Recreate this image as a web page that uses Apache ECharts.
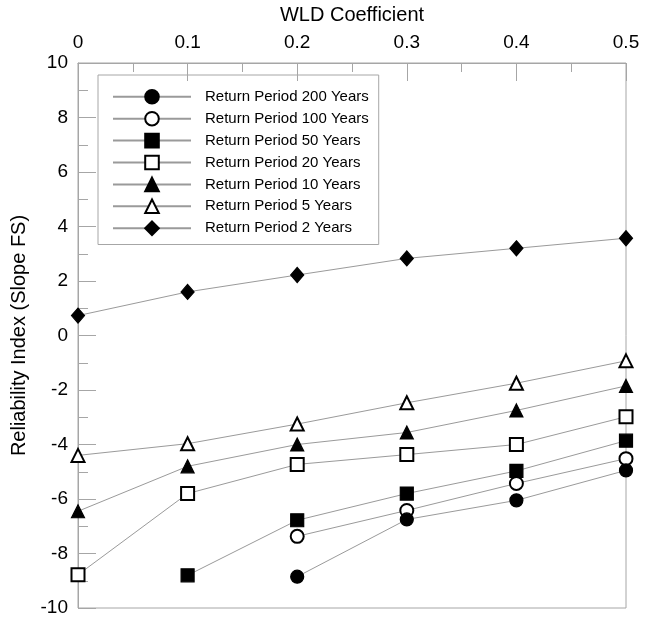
<!DOCTYPE html>
<html>
<head>
<meta charset="utf-8">
<script src="https://cdn.jsdelivr.net/npm/echarts@6/dist/echarts.min.js"></script>
<style>
  html, body { margin: 0; padding: 0; background: #fff; }
  #chart { width: 652px; height: 618px; }
</style>
</head>
<body>
<div id="chart"></div>
<script>
// WLD coefficient (x) and reliability index per return period
const wld = [0, 0.1, 0.2, 0.3, 0.4, 0.5];
const rp200 = [null, null, -8.85, -6.75, -6.05, -4.95];
const rp100 = [null, null, -7.37, -6.42, -5.43, -4.52];
const rp50 = [null, -8.8, -6.78, -5.8, -4.97, -3.86];
const rp20 = [-8.78, -5.8, -4.73, -4.37, -4.0, -2.98];
const rp10 = [-6.45, -4.8, -4.0, -3.56, -2.75, -1.85];
const rp5 = [-4.4, -3.97, -3.25, -2.47, -1.75, -0.93];
const rp2 = [0.73, 1.6, 2.22, 2.83, 3.2, 3.57];

const seriesNames = [
  'Return Period 200 Years',
  'Return Period 100 Years',
  'Return Period 50 Years',
  'Return Period 20 Years',
  'Return Period 10 Years',
  'Return Period 5 Years',
  'Return Period 2 Years'
];
const seriesValues = [rp200, rp100, rp50, rp20, rp10, rp5, rp2];
const symbols = ['circle', 'emptyCircle', 'rect', 'emptyRect', 'triangle', 'emptyTriangle', 'diamond'];

const axisGrey = '#a6a6a6';
const fontFamily = '"Liberation Sans", Arial, sans-serif';

const chart = echarts.init(document.getElementById('chart'), null, { renderer: 'canvas' });

// pair up x and y, skip missing points
function toPairs(vals) {
  const out = [];
  vals.forEach((v, i) => {
    if (v !== null) out.push([wld[i], v]);
  });
  return out;
}

const series = seriesNames.map((name, i) => ({
  name: name,
  type: 'line',
  data: toPairs(seriesValues[i]),
  symbol: symbols[i],
  symbolSize: symbols[i] === 'diamond' ? [13, 15] : 13,
  clip: false,
  z: 20 - i,
  lineStyle: { color: '#9a9a9a', width: 1 },
  itemStyle: { color: '#000', borderColor: '#000', borderWidth: 1.2 },
  emphasis: { disabled: true }
}));

const option = {
  backgroundColor: '#ffffff',
  animation: false,
  grid: {
    left: 78, top: 61, right: 26, bottom: 10,
    show: true, borderColor: axisGrey, borderWidth: 1
  },
  legend: {
    orient: 'vertical',
    left: 98,
    top: 75,
    padding: [14, 10, 8.5, 14],
    itemWidth: 78,
    itemHeight: 17,
    itemGap: 6.3,
    borderColor: axisGrey,
    borderWidth: 1,
    data: seriesNames,
    textStyle: { fontSize: 15, color: '#000', fontFamily: fontFamily, padding: [0, 0, 0, 9] }
  },
  xAxis: {
    type: 'value',
    position: 'top',
    min: 0, max: 0.5, interval: 0.1,
    name: 'WLD Coefficient',
    nameLocation: 'middle',
    nameGap: 38,
    nameTextStyle: { fontSize: 20, color: '#000', fontFamily: fontFamily },
    axisLine: { onZero: false, lineStyle: { color: axisGrey } },
    axisTick: { show: true, inside: true, length: 18, lineStyle: { color: axisGrey } },
    minorTick: { show: true, splitNumber: 2, length: 9, lineStyle: { color: axisGrey } },
    axisLabel: { fontSize: 19, color: '#000', fontFamily: fontFamily, margin: 11 },
    splitLine: { show: false }
  },
  yAxis: {
    type: 'value',
    min: -10, max: 10, interval: 2,
    name: 'Reliability Index (Slope FS)',
    nameLocation: 'middle',
    nameGap: 41,
    nameTextStyle: { fontSize: 20, color: '#000', fontFamily: fontFamily },
    axisLine: { show: true, onZero: false, lineStyle: { color: axisGrey } },
    axisTick: { show: true, inside: true, length: 18, lineStyle: { color: axisGrey } },
    minorTick: { show: true, splitNumber: 2, length: 10, lineStyle: { color: axisGrey } },
    axisLabel: { fontSize: 19, color: '#000', fontFamily: fontFamily, margin: 10 },
    splitLine: { show: false }
  },
  series: series
};

chart.setOption(option);
</script>
</body>
</html>
